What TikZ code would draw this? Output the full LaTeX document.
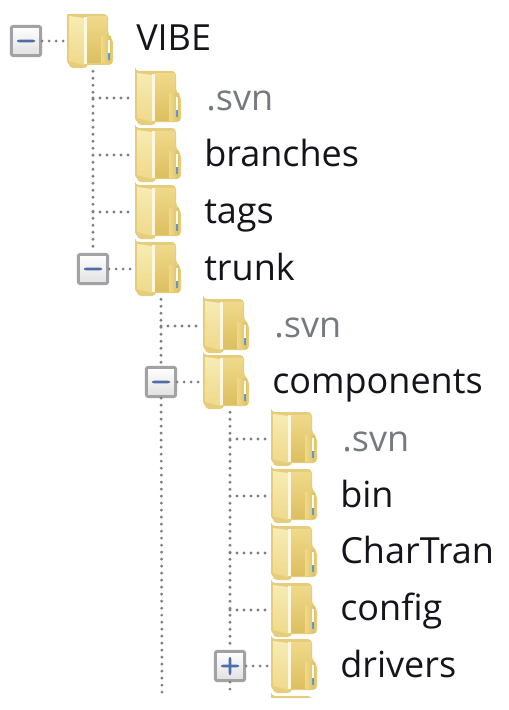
\documentclass[tikz,border=0pt]{standalone}
\usepackage{fontspec}
\setmainfont{Open Sans}
\definecolor{leafpale}{HTML}{F7ECB4}
\definecolor{leafmid}{HTML}{EFD98A}
\definecolor{leafdark}{HTML}{DDBF60}
\definecolor{leafedge}{HTML}{E6CD7C}
\definecolor{treedot}{HTML}{7E7E7E}
\definecolor{boxedge}{HTML}{A0A2A6}
\definecolor{signblue}{HTML}{4F6DA8}
\definecolor{mutedtext}{HTML}{767A80}
\definecolor{darktext}{HTML}{14141C}
\newcommand{\folderart}{%
  \begin{scope}[shift={(path picture bounding box.center)}, yshift=2.25pt]
    \fill[leafedge, rounded corners=3] (-23,27) -- (18,27) -- (18,6) -- (23,2) -- (23,-24) -- (-23,-24) -- (-23,27) -- cycle;
    \fill[leafedge, rounded corners=3] (-21,-20) rectangle (-2,-27);
    \shade[top color=leafmid, bottom color=leafdark] (-3,24) -- (17,24) -- (17,-22) -- (-3,-22) -- cycle;
    \shade[left color=leafmid, right color=leafdark] (11,4) -- (21,4) -- (21,-22) -- (11,-22) -- cycle;
    \shade[top color=leafpale, bottom color=leafmid] (-21,25) -- (-6,23) -- (-6,-24) -- (-21,-20) -- cycle;
    \fill[white!60!leafpale] (-6,24) rectangle (-3,-23);
    \fill[white!85!leafpale] (17.5,1) rectangle (20,-12);
    \fill[cyan!55!blue!65!white] (17.5,-12) rectangle (20,-19);
  \end{scope}}
\newcommand{\signminus}{%
  \begin{scope}[shift={(path picture bounding box.center)}]
    \fill[signblue] (-9,-1.3) rectangle (9,1.3);
  \end{scope}}
\newcommand{\signplus}{%
  \begin{scope}[shift={(path picture bounding box.center)}]
    \fill[signblue] (-9,-1.3) rectangle (9,1.3);
    \fill[signblue] (-1.3,-9) rectangle (1.3,9);
  \end{scope}}
\begin{document}
\begin{tikzpicture}[x=0.75pt, y=0.75pt,
    folder/.style={inner sep=0pt, minimum width=34.5pt, minimum height=45pt, path picture={\folderart}},
    label/.style={anchor=west, inner sep=0pt, text height=20pt, text depth=6pt, text=darktext, font=\fontsize{27}{31}\selectfont},
    muted/.style={label, text=mutedtext},
    toggle/.style={draw=boxedge, line width=2.2pt, rounded corners=1.5pt, inner sep=0pt, minimum size=22pt, top color=white, bottom color=black!12},
    minusbox/.style={toggle, path picture={\signminus}},
    plusbox/.style={toggle, path picture={\signplus}},
    dots/.style={draw=treedot, line width=2.4pt, line cap=round, dash pattern=on 0pt off 5.25pt}]
    \useasboundingbox (0,0) rectangle (508,-710);

    \node[minusbox] (bvibe) at (26,-41) {};
    \node[minusbox] (btrunk) at (93,-269) {};
    \node[minusbox] (bcomp) at (161,-382) {};
    \node[plusbox] (bdrivers) at (230,-666) {};

    \coordinate (endtrunk) at (162,-695);
    \coordinate (enddrivers) at (230,-695);

    \begin{scope}
    \clip (0,-15) rectangle (508,-697);
    \node[folder] (fvibe) at (90,-41) {};
    \node[folder] (fsvna) at (158,-98) {};
    \node[folder] (fbranches) at (158,-155) {};
    \node[folder] (ftags) at (158,-212) {};
    \node[folder] (ftrunk) at (158,-269) {};
    \node[folder] (fsvnb) at (226,-326) {};
    \node[folder] (fcomp) at (226,-382) {};
    \node[folder] (fsvnc) at (294,-439) {};
    \node[folder] (fbin) at (294,-496) {};
    \node[folder] (fchartran) at (294,-553) {};
    \node[folder] (fconfig) at (294,-610) {};
    \node[folder] (fdrivers) at (294,-666) {};
    \node[folder] (fnext) at (294,-723) {};
    \end{scope}

    \node[label] (tvibe) at (136,-41) {VIBE};
    \node[muted] (tsvna) at (206,-101) {.svn};
    \node[label] (tbranches) at (204,-157) {branches};
    \node[label] (ttags) at (204,-214) {tags};
    \node[label] (ttrunk) at (204,-271) {trunk};
    \node[muted] (tsvnb) at (274,-328) {.svn};
    \node[label] (tcomp) at (272,-384) {components};
    \node[muted] (tsvnc) at (342,-442) {.svn};
    \node[label] (tbin) at (340,-498) {bin};
    \node[label] (tchartran) at (340,-554) {CharTran};
    \node[label] (tconfig) at (340,-611) {config};
    \node[label] (tdrivers) at (340,-668) {drivers};

    \path[dots]
        (bvibe) -- (fvibe)
        (btrunk |- fvibe.south) -- (btrunk)
        (btrunk |- fsvna) -- (fsvna)
        (btrunk |- fbranches) -- (fbranches)
        (btrunk |- ftags) -- (ftags)
        (btrunk) -- (ftrunk)
        (bcomp |- ftrunk.south) -- (bcomp)
        (bcomp |- fsvnb) -- (fsvnb)
        (bcomp) -- (fcomp)
        (bcomp) -- (endtrunk)
        (bdrivers |- fcomp.south) -- (bdrivers)
        (bdrivers |- fsvnc) -- (fsvnc)
        (bdrivers |- fbin) -- (fbin)
        (bdrivers |- fchartran) -- (fchartran)
        (bdrivers |- fconfig) -- (fconfig)
        (bdrivers) -- (fdrivers)
        (bdrivers) -- (enddrivers)
        ;
    \end{tikzpicture}
\end{document}
